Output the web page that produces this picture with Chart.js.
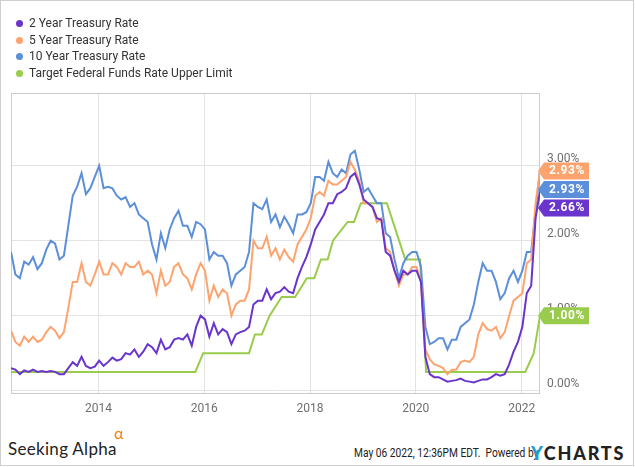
<!DOCTYPE html>
<html lang="en">
<head>
    <meta charset="UTF-8">
    <title>Treasury Rates vs Fed Funds</title>
    <script src="https://cdn.jsdelivr.net/npm/chart.js"></script>
    <style>
        body {
            margin: 0;
            background: #fff;
            font-family: Roboto, Arial, sans-serif;
        }

        #frame {
            position: absolute;
            left: 0;
            top: 0;
            width: 634px;
            height: 466px;
            box-sizing: border-box;
            border: 1px solid #cfcfcf;
        }

        #chart {
            position: absolute;
            left: 0;
            top: 0;
        }

        .legend-row {
            position: absolute;
            left: 16px;
            height: 16px;
            line-height: 16px;
            font-size: 12px;
            color: #333;
            white-space: nowrap;
        }

        .legend-row .dot {
            display: inline-block;
            width: 7px;
            height: 7px;
            border-radius: 50%;
            margin-right: 6px;
            vertical-align: 0px;
        }

        .sa {
            position: absolute;
            left: 8px;
            top: 440px;
            font-family: Lato, sans-serif;
            font-size: 17px;
            line-height: 17px;
            letter-spacing: 0.3px;
            color: #222;
        }

        .sa-alpha {
            position: absolute;
            left: 114px;
            top: 425px;
            font-family: Lato, sans-serif;
            font-size: 16px;
            line-height: 16px;
            color: #ff7a00;
        }

        .stamp {
            position: absolute;
            left: 354px;
            top: 447px;
            font-size: 12px;
            line-height: 12px;
            color: #222;
            white-space: nowrap;
            transform: scaleX(0.85);
            transform-origin: left top;
        }

        .ycharts {
            position: absolute;
            left: 531px;
            top: 444px;
            font-family: Lato, sans-serif;
            font-weight: 900;
            font-size: 18px;
            line-height: 18px;
            letter-spacing: 1.8px;
            color: #222;
        }

        .ycharts span {
            color: #1e9ad6;
        }
    </style>
</head>
<body>
    <div id="frame"></div>
    <canvas id="chart" width="635" height="430"></canvas>
    <div id="legend"></div>

    <div class="sa">Seeking Alpha</div>
    <div class="sa-alpha">α</div>
    <div class="stamp">May 06 2022, 12:36PM EDT.&nbsp; Powered by</div>
    <div class="ycharts"><span>Y</span>CHARTS</div>

    <script>
        // monthly observations (May 2012 - May 2022)
        const months = [
            '2012-05', '2012-06', '2012-07', '2012-08', '2012-09', '2012-10', '2012-11', '2012-12',
            '2013-01', '2013-02', '2013-03', '2013-04', '2013-05', '2013-06', '2013-07', '2013-08', '2013-09', '2013-10', '2013-11', '2013-12',
            '2014-01', '2014-02', '2014-03', '2014-04', '2014-05', '2014-06', '2014-07', '2014-08', '2014-09', '2014-10', '2014-11', '2014-12',
            '2015-01', '2015-02', '2015-03', '2015-04', '2015-05', '2015-06', '2015-07', '2015-08', '2015-09', '2015-10', '2015-11', '2015-12',
            '2016-01', '2016-02', '2016-03', '2016-04', '2016-05', '2016-06', '2016-07', '2016-08', '2016-09', '2016-10', '2016-11', '2016-12',
            '2017-01', '2017-02', '2017-03', '2017-04', '2017-05', '2017-06', '2017-07', '2017-08', '2017-09', '2017-10', '2017-11', '2017-12',
            '2018-01', '2018-02', '2018-03', '2018-04', '2018-05', '2018-06', '2018-07', '2018-08', '2018-09', '2018-10', '2018-11', '2018-12',
            '2019-01', '2019-02', '2019-03', '2019-04', '2019-05', '2019-06', '2019-07', '2019-08', '2019-09', '2019-10', '2019-11', '2019-12',
            '2020-01', '2020-02', '2020-03', '2020-04', '2020-05', '2020-06', '2020-07', '2020-08', '2020-09', '2020-10', '2020-11', '2020-12',
            '2021-01', '2021-02', '2021-03', '2021-04', '2021-05', '2021-06', '2021-07', '2021-08', '2021-09', '2021-10', '2021-11', '2021-12',
            '2022-01', '2022-02', '2022-03', '2022-04', '2022-05'
        ];

        const rate2y = [
            0.30, 0.28, 0.22, 0.27, 0.25, 0.28, 0.25, 0.26,
            0.25, 0.26, 0.25, 0.22, 0.22, 0.30, 0.38, 0.33, 0.45, 0.33, 0.30, 0.32,
            0.40, 0.33, 0.38, 0.44, 0.40, 0.42, 0.50, 0.48, 0.55, 0.45, 0.52, 0.62,
            0.58, 0.50, 0.68, 0.55, 0.58, 0.68, 0.70, 0.68, 0.75, 0.60, 0.85, 1.00,
            0.95, 0.72, 0.90, 0.75, 0.82, 0.78, 0.62, 0.75, 0.78, 0.80, 0.85, 1.15,
            1.20, 1.20, 1.35, 1.22, 1.30, 1.32, 1.38, 1.32, 1.30, 1.50, 1.65, 1.78,
            1.95, 2.15, 2.25, 2.35, 2.50, 2.50, 2.62, 2.65, 2.70, 2.85, 2.90, 2.75,
            2.55, 2.50, 2.45, 2.30, 2.28, 1.85, 1.80, 1.60, 1.45, 1.60, 1.55, 1.60,
            1.60, 1.45, 0.45, 0.22, 0.18, 0.18, 0.15, 0.12, 0.13, 0.14, 0.16, 0.13,
            0.12, 0.11, 0.13, 0.15, 0.15, 0.18, 0.22, 0.20, 0.22, 0.35, 0.52, 0.65,
            0.85, 1.30, 1.40, 2.30, 2.66
        ];

        const rate5y = [
            0.80, 0.65, 0.60, 0.72, 0.65, 0.72, 0.65, 0.68,
            0.78, 0.85, 0.80, 0.70, 0.78, 1.10, 1.45, 1.45, 1.70, 1.45, 1.40, 1.55,
            1.72, 1.55, 1.55, 1.70, 1.65, 1.55, 1.70, 1.65, 1.65, 1.72, 1.55, 1.60,
            1.55, 1.30, 1.60, 1.40, 1.45, 1.65, 1.70, 1.55, 1.50, 1.35, 1.55, 1.70,
            1.60, 1.20, 1.40, 1.25, 1.35, 1.30, 1.00, 1.15, 1.20, 1.20, 1.35, 2.00,
            1.90, 1.90, 2.05, 1.80, 1.90, 1.75, 1.88, 1.78, 1.72, 1.95, 2.05, 2.15,
            2.30, 2.60, 2.65, 2.60, 2.80, 2.75, 2.75, 2.80, 2.85, 3.05, 2.95, 2.80,
            2.50, 2.50, 2.45, 2.25, 2.30, 1.90, 1.85, 1.60, 1.40, 1.55, 1.55, 1.65,
            1.65, 1.45, 0.55, 0.42, 0.35, 0.33, 0.30, 0.22, 0.28, 0.28, 0.38, 0.40,
            0.38, 0.45, 0.75, 0.90, 0.82, 0.80, 0.85, 0.70, 0.78, 1.00, 1.20, 1.25,
            1.30, 1.70, 1.75, 2.50, 2.93
        ];

        const rate10y = [
            1.85, 1.55, 1.50, 1.72, 1.68, 1.78, 1.62, 1.70,
            1.88, 2.00, 1.96, 1.75, 1.80, 2.20, 2.60, 2.72, 2.90, 2.62, 2.70, 2.85,
            3.00, 2.70, 2.72, 2.70, 2.60, 2.55, 2.58, 2.45, 2.50, 2.35, 2.30, 2.25,
            1.95, 1.75, 2.10, 1.90, 2.15, 2.30, 2.40, 2.20, 2.20, 2.05, 2.25, 2.22,
            2.15, 1.75, 1.85, 1.80, 1.80, 1.70, 1.40, 1.55, 1.60, 1.65, 1.85, 2.50,
            2.45, 2.42, 2.55, 2.25, 2.35, 2.18, 2.32, 2.22, 2.10, 2.35, 2.35, 2.38,
            2.50, 2.85, 2.85, 2.80, 3.05, 2.90, 2.85, 2.95, 2.90, 3.15, 3.20, 2.95,
            2.65, 2.70, 2.60, 2.50, 2.50, 2.10, 2.05, 1.75, 1.50, 1.70, 1.80, 1.85,
            1.85, 1.65, 0.85, 0.62, 0.65, 0.70, 0.70, 0.55, 0.68, 0.68, 0.85, 0.90,
            0.95, 1.15, 1.45, 1.70, 1.60, 1.60, 1.45, 1.22, 1.30, 1.50, 1.60, 1.45,
            1.60, 1.85, 1.85, 2.40, 2.93
        ];

        // target fed funds upper limit, read at the points where the line bends
        const fedDates = [
            '2012-05-06', '2015-10-31', '2015-12-24', '2016-11-06', '2016-12-16', '2017-02-03',
            '2017-03-26', '2017-06-18', '2017-09-20', '2017-12-09', '2018-01-30', '2018-03-15',
            '2018-05-01', '2018-06-07', '2018-09-17', '2018-10-31', '2018-12-17', '2019-06-14',
            '2019-10-19', '2020-01-30', '2020-03-11', '2022-01-26', '2022-03-24', '2022-05-06'
        ];
        const fedRate = [
            0.25, 0.25, 0.50, 0.50, 0.75, 0.75,
            1.00, 1.25, 1.25, 1.50, 1.50, 1.75,
            1.75, 2.00, 2.25, 2.25, 2.50, 2.50,
            1.75, 1.75, 0.25, 0.25, 0.50, 1.00
        ];

        const seriesNames = ['2 Year Treasury Rate', '5 Year Treasury Rate', '10 Year Treasury Rate', 'Target Federal Funds Rate Upper Limit'];
        const seriesColors = ['#6935cc', '#fda46e', '#5b8fd9', '#99cc4c'];
        const yearTicks = [2014, 2016, 2018, 2020, 2022];
        const rateTicks = [0, 1, 2, 3];

        // 'YYYY-MM' or 'YYYY-MM-DD' -> decimal year
        function toYear(s) {
            const parts = s.split('-').map(Number);
            const day = parts[2] || 6;
            return parts[0] + (parts[1] - 1) / 12 + (day - 1) / 365;
        }

        const monthX = months.map(toYear);
        const fedX = fedDates.map(toYear);
        const pairs = (xs, ys) => xs.map((x, i) => ({ x: x, y: ys[i] }));

        // legend (html)
        const legendEl = document.getElementById('legend');
        seriesNames.forEach((name, i) => {
            const row = document.createElement('div');
            row.className = 'legend-row';
            row.style.top = (15 + i * 16.6) + 'px';
            row.innerHTML = `<span class="dot" style="background:${seriesColors[i]}"></span>${name}`;
            legendEl.appendChild(row);
        });

        // plot border
        const frameBox = {
            id: 'frameBox',
            beforeDatasetsDraw(chart) {
                const { ctx, chartArea: a } = chart;
                ctx.save();
                ctx.strokeStyle = '#cccccc';
                ctx.lineWidth = 1;
                ctx.strokeRect(a.left + 0.5, a.top + 0.5, a.right - a.left - 1, a.bottom - a.top - 1);
                ctx.restore();
            }
        };

        // last value flags on the right
        const lastTags = {
            id: 'lastTags',
            afterDraw(chart) {
                const { ctx, chartArea: a } = chart;
                const yScale = chart.scales.y;
                const tags = chart.data.datasets.map(ds => {
                    const last = ds.data[ds.data.length - 1];
                    return { value: last.y, color: ds.borderColor, y: yScale.getPixelForValue(last.y) };
                }).sort((p, q) => q.value - p.value);

                let prev = -Infinity;
                tags.forEach(t => {
                    t.y = Math.max(t.y, prev + 18.5);
                    prev = t.y;
                });

                ctx.save();
                tags.forEach(t => {
                    const x0 = a.right - 2;
                    const h = 8.5;
                    ctx.fillStyle = t.color;
                    ctx.beginPath();
                    ctx.moveTo(x0, t.y);
                    ctx.lineTo(x0 + 6, t.y - h);
                    ctx.lineTo(x0 + 51, t.y - h);
                    ctx.lineTo(x0 + 51, t.y + h);
                    ctx.lineTo(x0 + 6, t.y + h);
                    ctx.closePath();
                    ctx.fill();

                    ctx.fillStyle = '#fff';
                    ctx.font = 'bold 12px Roboto';
                    ctx.letterSpacing = '0.6px';
                    ctx.textAlign = 'center';
                    ctx.textBaseline = 'middle';
                    ctx.fillText(t.value.toFixed(2) + '%', x0 + 29, t.y + 0.5);
                });
                ctx.restore();
            }
        };

        const datasets = [
            { data: pairs(monthX, rate2y) },
            { data: pairs(monthX, rate5y) },
            { data: pairs(monthX, rate10y) },
            { data: pairs(fedX, fedRate) }
        ].map((ds, i) => Object.assign(ds, {
            label: seriesNames[i],
            borderColor: seriesColors[i],
            backgroundColor: seriesColors[i],
            borderWidth: 2,
            pointRadius: 0,
            tension: 0
        }));

        new Chart(document.getElementById('chart'), {
            type: 'line',
            data: { datasets: datasets },
            options: {
                responsive: false,
                animation: false,
                layout: { padding: { left: 11, top: 93, right: 0, bottom: 10 } },
                plugins: {
                    legend: { display: false },
                    tooltip: { enabled: false }
                },
                scales: {
                    x: {
                        type: 'linear',
                        min: toYear('2012-05-06'),
                        max: toYear('2022-05-06'),
                        afterBuildTicks: axis => { axis.ticks = yearTicks.map(v => ({ value: v })); },
                        afterFit: axis => { axis.height = 26; },
                        grid: { color: '#e3e3e3', drawTicks: false },
                        border: { display: false },
                        ticks: {
                            padding: 8,
                            color: '#6f6f6f',
                            font: { family: 'Roboto', size: 12 },
                            callback: v => String(v)
                        }
                    },
                    y: {
                        position: 'right',
                        min: -0.045,
                        max: 3.97,
                        afterBuildTicks: axis => { axis.ticks = rateTicks.map(v => ({ value: v })); },
                        afterFit: axis => { axis.width = 95; },
                        grid: { color: '#e3e3e3', drawTicks: false },
                        border: { display: false },
                        ticks: {
                            padding: 7,
                            labelOffset: -7,
                            color: '#6f6f6f',
                            font: { family: 'Roboto', size: 12 },
                            callback: v => v.toFixed(2) + '%'
                        }
                    }
                }
            },
            plugins: [frameBox, lastTags]
        });
    </script>
</body>
</html>
